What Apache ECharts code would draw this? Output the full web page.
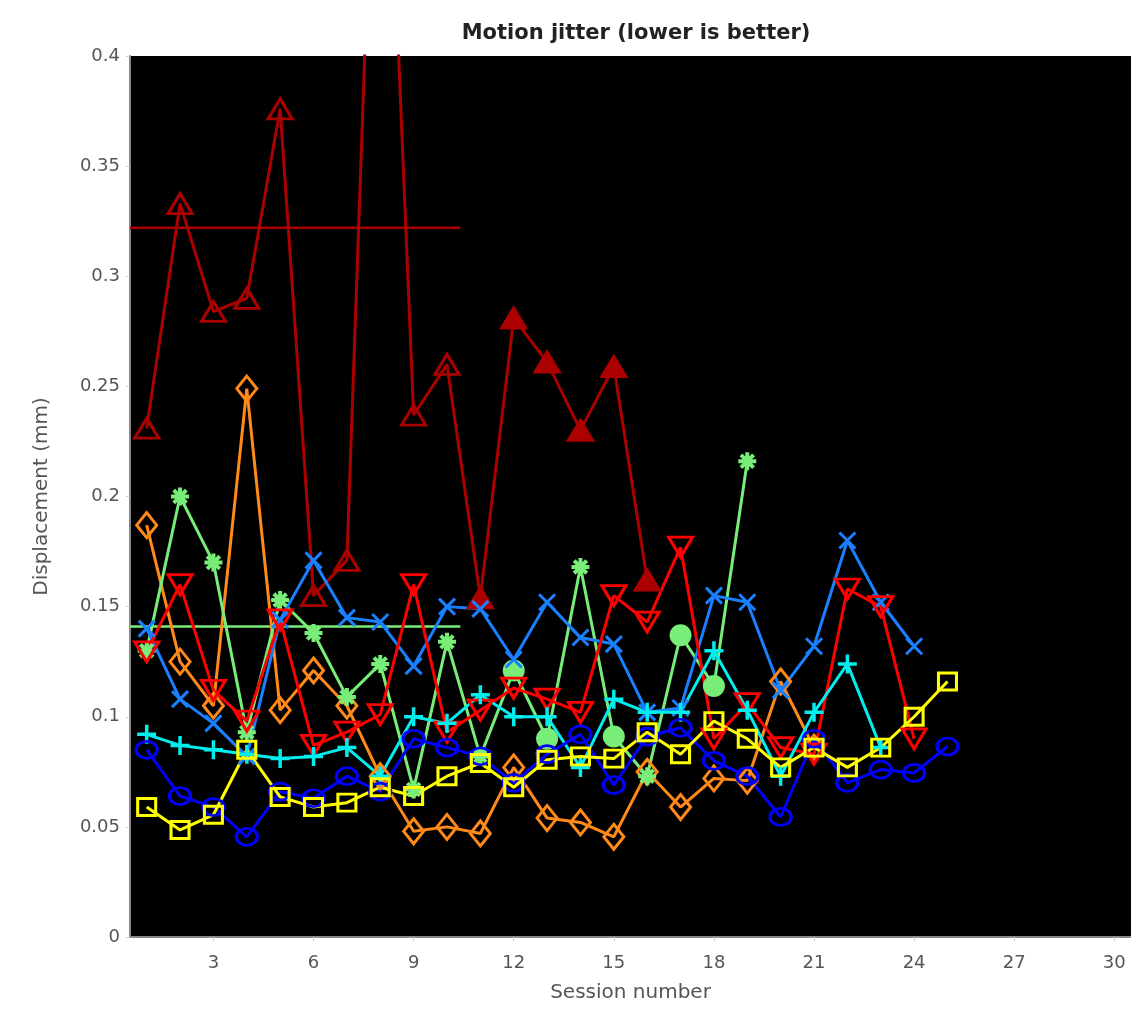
<!DOCTYPE html>
<html>
<head>
<meta charset="utf-8">
<script src="https://cdn.jsdelivr.net/npm/echarts@6/dist/echarts.min.js"></script>
<style>html,body{margin:0;padding:0;background:#fff;}#c{width:1131px;height:1015px;}</style>
</head>
<body>
<div id="c"></div>
<script>
// ---- data ----
const xTicks = [3, 6, 9, 12, 15, 18, 21, 24, 27, 30];
const yTicks = [0, 0.05, 0.1, 0.15, 0.2, 0.25, 0.3, 0.35, 0.4];
const darkRed = [0.231, 0.333, 0.284, 0.29, 0.376, 0.155, 0.171, 0.6, 0.237, 0.26, 0.154, 0.281, 0.261, 0.23, 0.259, 0.162];
const orange = [0.187, 0.125, 0.105, 0.249, 0.103, 0.121, 0.105, 0.073, 0.048, 0.05, 0.047, 0.077, 0.054, 0.052, 0.0455, 0.075, 0.059, 0.072, 0.071, 0.116, 0.086];
const green = [0.13, 0.2, 0.17, 0.093, 0.153, 0.138, 0.109, 0.124, 0.067, 0.134, 0.082, 0.121, 0.09, 0.168, 0.091, 0.073, 0.137, 0.114, 0.216];
const blueX = [0.14, 0.108, 0.097, 0.082, 0.144, 0.171, 0.145, 0.143, 0.123, 0.15, 0.149, 0.126, 0.152, 0.136, 0.133, 0.102, 0.104, 0.155, 0.152, 0.112, 0.132, 0.18, 0.152, 0.132];
const red = [0.1295, 0.16, 0.112, 0.098, 0.144, 0.087, 0.093, 0.101, 0.16, 0.093, 0.103, 0.113, 0.108, 0.102, 0.155, 0.143, 0.177, 0.09, 0.106, 0.086, 0.083, 0.158, 0.15, 0.09];
const cyan = [0.092, 0.087, 0.085, 0.083, 0.081, 0.082, 0.086, 0.073, 0.1, 0.097, 0.11, 0.1, 0.1, 0.077, 0.108, 0.102, 0.102, 0.13, 0.103, 0.073, 0.102, 0.124, 0.086];
const blueCircle = [0.085, 0.064, 0.059, 0.0455, 0.066, 0.063, 0.073, 0.066, 0.09, 0.086, 0.082, 0.07, 0.083, 0.092, 0.069, 0.091, 0.095, 0.08, 0.073, 0.0545, 0.09, 0.07, 0.076, 0.0745, 0.0865];
const yellow = [0.059, 0.0486, 0.0555, 0.085, 0.0636, 0.059, 0.061, 0.068, 0.064, 0.073, 0.079, 0.068, 0.0805, 0.082, 0.081, 0.093, 0.083, 0.098, 0.09, 0.077, 0.086, 0.077, 0.086, 0.1, 0.116];
const darkRedMean = 0.322;
const greenMean = 0.141;
const meanSpan = [0.5, 10.4];

// ---- styles ----
const darkRedFilledFrom = 11;          // sessions drawn with filled markers
const greenCircleSessions = [12, 13, 15, 17, 18];
const P_X = 'path://M0,0 L10,10 M10,0 L0,10';
const P_PLUS = 'path://M5,0 L5,10 M0,5 L10,5';
const P_STAR = 'path://M5,0 L5,10 M0,5 L10,5 M1.5,1.5 L8.5,8.5 M8.5,1.5 L1.5,8.5';
const NONE = 'rgba(0,0,0,0)';

function pts(arr) { return arr.map((v, i) => [i + 1, v]); }

function lineSeries(name, arr, color, symbol, size, extra) {
  return Object.assign({
    name: name,
    type: 'line',
    data: pts(arr),
    symbol: symbol,
    symbolSize: size,
    showAllSymbol: true,
    clip: true,
    lineStyle: { color: color, width: 3 },
    itemStyle: { color: NONE, borderColor: color, borderWidth: 3 },
    emphasis: { disabled: true },
    z: 2
  }, extra || {});
}

const C = {
  darkRed: '#aa0000', orange: '#ff8a1a', green: '#78ee78', blueX: '#1a80ff',
  red: '#ff0000', cyan: '#00eeee', blue: '#0000ff', yellow: '#ffff00'
};

const series = [
  {
    type: 'line', data: meanSpan.map(x => [x, darkRedMean]), symbol: 'none',
    lineStyle: { color: C.darkRed, width: 2.5 }, emphasis: { disabled: true }, z: 1
  },
  {
    type: 'line', data: meanSpan.map(x => [x, greenMean]), symbol: 'none',
    lineStyle: { color: C.green, width: 2.5 }, emphasis: { disabled: true }, z: 1
  },
  lineSeries('s1', darkRed, C.darkRed, 'triangle', [24, 20], {
    data: pts(darkRed).map(p => p[0] >= darkRedFilledFrom
      ? { value: p, itemStyle: { color: C.darkRed, borderColor: C.darkRed } } : { value: p })
  }),
  lineSeries('s2', orange, C.orange, 'diamond', [20, 25]),
  lineSeries('s3', green, C.green, P_STAR, 18, {
    data: pts(green).map(p => greenCircleSessions.indexOf(p[0]) >= 0
      ? { value: p, symbol: 'circle', symbolSize: 19, itemStyle: { color: C.green, borderColor: C.green } }
      : { value: p, itemStyle: { borderWidth: 4 } })
  }),
  lineSeries('s4', blueX, C.blueX, P_X, 16),
  lineSeries('s5', red, C.red, 'triangle', [24, 20], { symbolRotate: 180 }),
  lineSeries('s6', cyan, C.cyan, P_PLUS, 19, { itemStyle: { color: NONE, borderColor: C.cyan, borderWidth: 3.5 } }),
  lineSeries('s7', blueCircle, C.blue, 'circle', [21, 17]),
  lineSeries('s8', yellow, C.yellow, 'rect', [18, 17])
];

const FONT = 'DejaVu Sans';
const chart = echarts.init(document.getElementById('c'), null, { renderer: 'canvas' });
chart.setOption({
  animation: false,
  backgroundColor: '#fff',
  title: {
    text: 'Motion jitter (lower is better)',
    left: 631, top: 18, textAlign: 'center',
    textStyle: { fontFamily: FONT, fontWeight: 'bold', fontSize: 21, color: '#222' }
  },
  grid: { left: 130, right: 0, top: 56, bottom: 78, show: true, backgroundColor: '#000', borderWidth: 0 },
  xAxis: {
    type: 'value', min: 0.5, max: 30.5,
    name: 'Session number', nameLocation: 'middle', nameGap: 46,
    nameTextStyle: { fontFamily: FONT, fontSize: 20, color: '#555' },
    axisLine: { show: true, onZero: false, lineStyle: { color: '#888', width: 2 } },
    axisTick: { show: true, customValues: xTicks, length: 4, inside: false, lineStyle: { color: '#ccc' } },
    axisLabel: { customValues: xTicks, fontFamily: FONT, fontSize: 18, color: '#555', margin: 17 },
    splitLine: { show: false }
  },
  yAxis: {
    type: 'value', min: 0, max: 0.4,
    name: 'Displacement (mm)', nameLocation: 'middle', nameGap: 78,
    nameTextStyle: { fontFamily: FONT, fontSize: 20, color: '#555' },
    axisLine: { show: true, lineStyle: { color: '#888', width: 2 } },
    axisTick: { show: true, customValues: yTicks, length: 4, lineStyle: { color: '#ccc' } },
    axisLabel: { customValues: yTicks, fontFamily: FONT, fontSize: 18, color: '#555', margin: 10 },
    splitLine: { show: false }
  },
  series: series
});
</script>
</body>
</html>
